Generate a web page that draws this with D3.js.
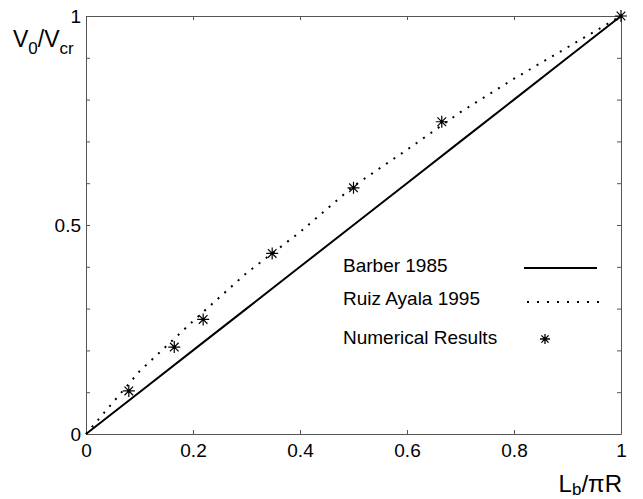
<!DOCTYPE html>
<html><head><meta charset="utf-8">
<script src="https://cdn.jsdelivr.net/npm/d3@7"></script>
<style>body{margin:0;background:#fff}svg{display:block}text{font-family:"Liberation Sans",Arial,sans-serif;fill:#000}</style>
</head><body>
<svg id="c" width="643" height="499"></svg>
<script>
const xTicks = [0, 0.2, 0.4, 0.6, 0.8, 1];
const xTickLabels = ["0", "0.2", "0.4", "0.6", "0.8", "1"];
const yTicks = [0, 0.1, 0.2, 0.3, 0.4, 0.5, 0.6, 0.7, 0.8, 0.9, 1];
const yTickLabels = ["0", "", "", "", "", "0.5", "", "", "", "", "1"];
const seriesNames = ["Barber 1985", "Ruiz Ayala 1995", "Numerical Results"];
const barberX = [0, 0.1, 0.2, 0.3, 0.4, 0.5, 0.6, 0.7, 0.8, 0.9, 1];
const barberY = [0, 0.1, 0.2, 0.3, 0.4, 0.5, 0.6, 0.7, 0.8, 0.9, 1];
const ruizX = [0, 0.1, 0.2, 0.3, 0.4, 0.5, 0.6, 0.7, 0.8, 0.9, 1];
const ruizY = [0, 0.15, 0.27, 0.385, 0.483, 0.593, 0.68, 0.77, 0.85, 0.925, 1];
const numX = [0.08, 0.165, 0.219, 0.348, 0.5, 0.665, 1];
const numY = [0.103, 0.208, 0.274, 0.432, 0.589, 0.747, 1];

const svg = d3.select("#c");
const x = d3.scaleLinear().domain([0, 1]).range([86, 621]);
const y = d3.scaleLinear().domain([0, 1]).range([434, 16]);
const axisColor = "#555";

function styleAxis(g){
  g.select(".domain").attr("stroke", axisColor).attr("stroke-width", 1);
  g.selectAll(".tick line").attr("stroke", axisColor);
  g.selectAll(".tick text").attr("font-size", 19).attr("font-family", '"Liberation Sans",Arial,sans-serif').attr("fill", "#000");
}
const gB = svg.append("g").attr("transform", `translate(0,${y(0)})`)
  .call(d3.axisBottom(x).tickValues(xTicks).tickFormat((d,i)=>xTickLabels[i]).tickSizeInner(-4).tickSizeOuter(0).tickPadding(10));
styleAxis(gB);
const gT = svg.append("g").attr("transform", `translate(0,${y(1)})`)
  .call(d3.axisTop(x).tickValues(xTicks).tickFormat("").tickSizeInner(-4).tickSizeOuter(0));
styleAxis(gT);
const gL = svg.append("g").attr("transform", `translate(${x(0)},0)`)
  .call(d3.axisLeft(y).tickValues(yTicks).tickFormat((d,i)=>yTickLabels[i]).tickSizeInner(-4).tickSizeOuter(0).tickPadding(5));
styleAxis(gL);
const gR = svg.append("g").attr("transform", `translate(${x(1)},0)`)
  .call(d3.axisRight(y).tickValues(yTicks).tickFormat("").tickSizeInner(-4).tickSizeOuter(0));
styleAxis(gR);

const line = d3.line().x(d=>x(d[0])).y(d=>y(d[1]));
svg.append("path").datum(barberX.map((v,i)=>[v,barberY[i]]))
  .attr("d", line).attr("fill","none").attr("stroke","#000").attr("stroke-width",2);
svg.append("path").datum(ruizX.map((v,i)=>[v,ruizY[i]]))
  .attr("d", line).attr("fill","none").attr("stroke","#000").attr("stroke-width",2)
  .attr("stroke-dasharray","2,7");

function star(r){
  const a = r*0.72;
  return `M${-r},0L${r},0M0,${-r}L0,${r}M${-a},${-a}L${a},${a}M${-a},${a}L${a},${-a}`;
}
svg.append("g").selectAll("path").data(numX.map((v,i)=>[v,numY[i]])).join("path")
  .attr("transform", d=>`translate(${x(d[0])},${y(d[1])})`)
  .attr("d", star(6)).attr("stroke","#000").attr("stroke-width",1.2).attr("fill","none");
svg.append("g").selectAll("circle").data(numX.map((v,i)=>[v,numY[i]])).join("circle")
  .attr("cx", d=>x(d[0])).attr("cy", d=>y(d[1])).attr("r",1.6).attr("fill","#000");

// legend
const lg = svg.append("g");
const rowsY = [272, 305, 344];
lg.selectAll("text").data(seriesNames).join("text")
  .attr("x", 343).attr("y", (d,i)=>rowsY[i]).attr("font-size", 19).text(d=>d);
lg.append("line").attr("x1",524).attr("x2",597).attr("y1",268).attr("y2",268)
  .attr("stroke","#000").attr("stroke-width",2);
lg.append("line").attr("x1",527).attr("x2",599).attr("y1",302).attr("y2",302)
  .attr("stroke","#000").attr("stroke-width",2).attr("stroke-dasharray","2,8");
lg.append("path").attr("transform","translate(545,339)").attr("d", star(5))
  .attr("stroke","#000").attr("stroke-width",1.3).attr("fill","none");

// axis labels
const yl = svg.append("text").attr("x", 13).attr("y", 47).attr("font-size", 23);
yl.append("tspan").text("V");
yl.append("tspan").attr("font-size", 17).attr("dy", 7).text("0");
yl.append("tspan").attr("dy", -7).text("/V");
yl.append("tspan").attr("font-size", 17).attr("dy", 7).text("cr");

const xl = svg.append("text").attr("x", 622).attr("y", 492).attr("font-size", 24).attr("text-anchor","end");
xl.append("tspan").text("L");
xl.append("tspan").attr("font-size", 17).attr("dy", 3).text("b");
xl.append("tspan").attr("dy", -3).text("/πR");
</script>
</body></html>
